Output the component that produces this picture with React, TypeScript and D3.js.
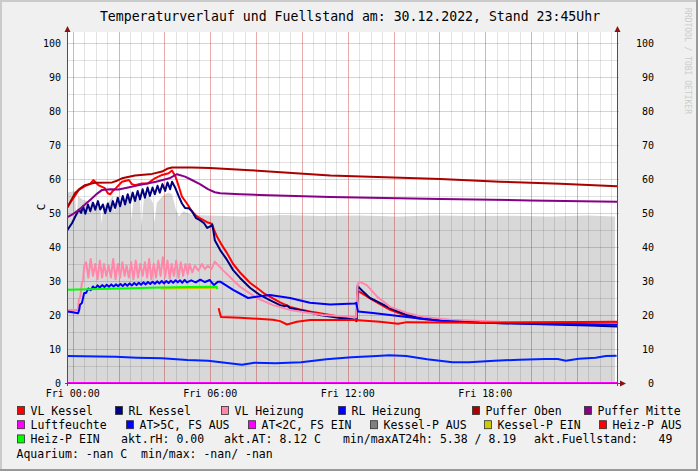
import React from 'react';
import * as d3 from 'd3';

// ---------- data (time in minutes after Fri 00:00, values in °C / %) ----------
const titleText = 'Temperaturverlauf und Fuellstand am: 30.12.2022, Stand 23:45Uhr';
const yTickValues = [0, 10, 20, 30, 40, 50, 60, 70, 80, 90, 100];
const xLabelMinutes = [0, 360, 720, 1080];
const xLabelTexts = ['Fri 00:00', 'Fri 06:00', 'Fri 12:00', 'Fri 18:00'];

const fuellstand: [number, number][] = [
  [-15, 56], [6, 56.5], [10, 48], [14, 55], [25, 54], [38, 53.5], [44, 50], [48, 54], [60, 52.5], [71, 52],
  [76, 47], [80, 52], [92, 53], [105, 55], [110, 50], [115, 55], [129, 52.5], [140, 54.5], [150, 55],
  [154, 48], [160, 55], [176, 53.5], [180, 46], [186, 54], [200, 55], [210, 53], [214, 47], [220, 53],
  [236, 55], [250, 56], [260, 55.5], [270, 51], [278, 49], [290, 50.5], [310, 49.5], [350, 49.3],
  [450, 49.0], [550, 49.4], [650, 49.1], [750, 49.3], [850, 49.0], [950, 49.3], [1050, 49.1],
  [1150, 49.2], [1250, 49.0], [1350, 49.3], [1420, 49.0],
];

const vlKessel: [number, number][] = [
  [-15, 51.5], [-2, 53.8], [16, 56.8], [32, 57.9], [45, 58.5], [54, 59.7], [67, 58.2], [84, 57.3], [92, 55.8],
  [98, 55.5], [105, 56.5], [113, 57.3], [129, 59.2], [147, 59.7], [155, 58.5], [163, 58.2], [181, 58.7],
  [197, 58.7], [215, 60.2], [234, 61.2], [251, 61.7], [260, 62.5], [269, 60.7], [278, 57.7], [286, 54.8],
  [299, 52.8], [312, 50.5], [325, 49], [341, 48], [354, 47.2], [365, 46.8], [370, 45], [378, 43], [388, 41],
  [404, 38.2], [420, 35], [438, 32.5], [464, 29.5], [482, 28], [503, 26.2], [516, 25.4], [543, 23.7],
  [569, 22.4], [595, 21.6], [621, 21], [674, 20], [713, 19.2], [739, 18.5], [743, 18.2], [746, 27],
  [750, 26.9], [786, 24.4], [831, 21.5], [875, 19.7], [909, 18.9], [962, 18.3], [1040, 17.9],
  [1171, 17.8], [1425, 17.8],
];

const rlKessel: [number, number][] = [
  [-15, 44.8], [-2, 47], [9, 49.5], [16, 51], [22, 50], [27, 52], [33, 49.8], [40, 52.5], [46, 50.5],
  [53, 53], [59, 51], [66, 53.5], [72, 51], [79, 52.5], [85, 49.9], [92, 52.8], [98, 50.5], [105, 53.5],
  [111, 51.5], [118, 54.5], [124, 52], [131, 55], [137, 52.5], [144, 55.5], [150, 53], [157, 56],
  [163, 53.5], [170, 56.5], [176, 54], [183, 57], [189, 54.5], [196, 57.5], [202, 55], [209, 57.5],
  [215, 55.5], [222, 58], [228, 56], [235, 58.5], [242, 56.5], [248, 59], [255, 57], [260, 59.2],
  [268, 57.5], [278, 54.8], [286, 52.8], [294, 51.5], [304, 51.4], [312, 50.5], [323, 48.5], [333, 47.9],
  [344, 47], [352, 45.6], [359, 46], [365, 46.5], [368, 45], [372, 42], [386, 39.1], [404, 36.2],
  [420, 33.2], [438, 30.9], [464, 28], [490, 25.9], [516, 24.4], [543, 22.9], [556, 22.6], [561, 22.8],
  [569, 22], [595, 21.5], [647, 20], [700, 19.1], [739, 18.6], [743, 18.3], [746, 28.5], [760, 26.9],
  [778, 25], [786, 24.6], [831, 22], [875, 20], [909, 19.2], [962, 18.5], [1014, 18.1], [1119, 17.6],
  [1250, 17.2], [1354, 16.9], [1425, 16.6],
];

const vlHeizung: [number, number][] = [
  [-15, 21.5], [14, 21.5], [16, 24.5], [20, 25.5], [24, 29.5], [27, 30], [30, 34.5],
  [35, 35.5], [41, 31], [47, 36.5], [53, 31.5], [59, 35], [65, 30.5], [71, 36], [77, 31], [82, 35],
  [88, 31.5], [94, 34.5], [100, 31], [106, 36.5], [112, 30.5], [118, 35], [124, 31], [130, 35.5],
  [136, 31.5], [141, 34.5], [147, 31], [153, 35.5], [159, 30.5], [165, 36], [171, 31], [177, 35],
  [183, 31.5], [189, 35.5], [195, 31], [200, 36.5], [206, 30.5], [212, 35], [218, 31], [224, 36],
  [230, 31.5], [236, 37], [242, 31.2], [248, 36], [254, 30.8], [259, 35], [265, 31.5], [271, 36],
  [277, 31], [283, 35.5], [289, 31.5], [295, 35], [301, 32], [306, 35], [313, 32.5], [320, 34.5],
  [329, 33], [338, 35], [346, 33.5], [354, 34.5], [363, 33.5], [372, 35.7], [393, 33.2], [438, 28.3],
  [482, 25], [524, 22.9], [569, 21.5], [655, 20], [734, 19.5], [742, 19.3], [746, 29], [750, 29.8],
  [770, 28.8], [797, 25.4], [831, 22.4], [875, 20.6], [917, 19.4], [988, 18.6], [1119, 18.0],
  [1276, 17.7], [1425, 17.5],
];

const rlHeizung: [number, number][] = [
  [-15, 21], [0, 20.8], [14, 20.5], [17, 21.5], [19, 23], [24, 23.5], [27, 25], [30, 26.5],
  [35, 26.5], [41, 27.8], [47, 27.3], [53, 28.4], [59, 27.8], [65, 28.7], [71, 28.1], [77, 28.8],
  [83, 28.2], [89, 28.9], [95, 28.3], [101, 29], [107, 28.4], [113, 29], [119, 28.5], [125, 29.1],
  [131, 28.5], [137, 29.2], [143, 28.6], [149, 29.3], [155, 28.7], [161, 29.4], [167, 28.8], [173, 29.5],
  [179, 28.9], [185, 29.6], [191, 29], [197, 29.7], [203, 29.1], [209, 29.8], [215, 29.2], [221, 29.9],
  [227, 29.3], [233, 30], [239, 29.3], [245, 30], [251, 29.4], [257, 30.1], [263, 29.5], [269, 30.2],
  [275, 29.6], [281, 30.2], [287, 29.5], [293, 30.3], [299, 29.6], [310, 30.2], [322, 29.6], [334, 30.4],
  [346, 29.7], [359, 30.3], [365, 29.4], [370, 28.8], [380, 29.8], [386, 29.8], [420, 27.4], [459, 25],
  [482, 25.4], [516, 25.9], [569, 25], [621, 23.6], [674, 23.1], [739, 23.4], [742, 23.6], [747, 21],
  [786, 20.6], [875, 19.4], [962, 18.3], [1066, 17.7], [1250, 17.4], [1425, 17.1],
];

const pufferOben: [number, number][] = [
  [-15, 51.5], [-5, 53.5], [6, 55.8], [19, 57.2], [32, 58.2], [58, 58.9], [103, 59], [116, 59.5],
  [129, 60.2], [163, 61], [208, 61.5], [234, 62.2], [247, 63], [260, 63.4], [312, 63.4], [359, 63.2],
  [464, 62.6], [674, 61.0], [962, 60.0], [1119, 59.2], [1276, 58.6], [1425, 57.9],
];

const pufferMitte: [number, number][] = [
  [-15, 48.7], [-2, 49.5], [16, 50.9], [32, 52.5], [50, 54.3], [64, 55.7], [77, 56.8], [98, 57],
  [120, 56.9], [145, 57.5], [174, 58.2], [218, 59.2], [253, 60.2], [273, 61.4], [294, 60.7], [312, 59.7],
  [333, 58.5], [354, 57], [372, 56.1], [386, 55.8], [438, 55.5], [490, 55.3], [674, 54.7], [962, 54.1],
  [1197, 53.7], [1425, 53.3],
];

const luftfeuchte: [number, number][] = [[-15, 0], [1425, 0]];

const aussenTemp: [number, number][] = [
  [-14, 7.94], [113, 7.75], [168, 7.45], [234, 7.25], [300, 6.76], [355, 6.57], [399, 5.98], [443, 5.4],
  [476, 5.98], [531, 5.78], [598, 6.08], [664, 6.96], [730, 7.55], [796, 7.94], [829, 8.14], [873, 7.94],
  [928, 6.96], [994, 6.08], [1038, 6.08], [1104, 6.57], [1170, 6.86], [1236, 7.06], [1270, 7.06],
  [1291, 6.57], [1325, 7.16], [1369, 7.45], [1396, 7.94], [1424, 8.04],
];

const kesselPEin: [number, number][] = [[230, 27.8], [378, 28.0]];
const heizPEin: [number, number][] = [[-15, 27.4], [100, 27.7], [200, 28.0], [300, 28.2], [377, 28.3], [378, 27.6]];
const heizPAus: [number, number][] = [
  [382, 22], [388, 19.4], [438, 19.2], [524, 18.6], [543, 18.2], [561, 17.2], [587, 18], [621, 18.5],
  [655, 18.5], [739, 18.5], [804, 18], [852, 17.4], [875, 17.9], [1048, 17.7], [1425, 18.0],
];

const legendRows: { color?: string; text: string; x: number }[][] = [
  [
    { color: '#ff0000', text: 'VL Kessel', x: 17 },
    { color: '#000080', text: 'RL Kessel', x: 115 },
    { color: '#ff88aa', text: 'VL Heizung', x: 221 },
    { color: '#0000ff', text: 'RL Heizung', x: 338 },
    { color: '#aa0000', text: 'Puffer Oben', x: 472 },
    { color: '#880088', text: 'Puffer Mitte', x: 584 },
  ],
  [
    { color: '#ff00ff', text: 'Luftfeuchte', x: 17 },
    { color: '#0000ff', text: 'AT>5C, FS AUS', x: 126 },
    { color: '#ff00ff', text: 'AT<2C, FS EIN', x: 248 },
    { color: '#808080', text: 'Kessel-P AUS', x: 370 },
    { color: '#cccc00', text: 'Kessel-P EIN', x: 484 },
    { color: '#ff0000', text: 'Heiz-P AUS', x: 599 },
  ],
  [
    { color: '#00ff00', text: 'Heiz-P EIN', x: 17 },
    { text: 'akt.rH: 0.00', x: 121 },
    { text: 'akt.AT: 8.12 C', x: 224 },
    { text: 'min/maxAT24h: 5.38 / 8.19', x: 343 },
    { text: 'akt.Fuellstand:   49', x: 534 },
  ],
  [{ text: 'Aquarium: -nan C  min/max: -nan/ -nan', x: 16.5 }],
];

// ---------- layout ----------
const W = 698;
const H = 471;
const PL = 67, PR = 617, PT = 32, PB = 383;
const MONO = '"DejaVu Sans Mono", "Liberation Mono", monospace';

export default function App() {
  const x = d3.scaleLinear().domain([-15, 1425]).range([PL, PR]);
  const y = d3.scaleLinear().domain([0, 100]).range([PB, 43]);
  const line = d3.line<[number, number]>().x((d) => x(d[0])).y((d) => y(d[1]));
  const area = d3
    .area<[number, number]>()
    .x((d) => x(d[0]))
    .y0(y(0))
    .y1((d) => y(d[1]));

  const minorX = d3.range(0, 1425, 30);
  const majorX = d3.range(0, 1425, 120);
  const minorY = d3.range(5, 101, 10);

  const series: { data: [number, number][]; color: string; w: number }[] = [
    { data: vlKessel, color: '#ff0000', w: 2 },
    { data: rlKessel, color: '#000080', w: 2 },
    { data: vlHeizung, color: '#ff88aa', w: 2 },
    { data: rlHeizung, color: '#0000ff', w: 2 },
    { data: pufferOben, color: '#aa0000', w: 2 },
    { data: pufferMitte, color: '#880088', w: 2 },
    { data: luftfeuchte, color: '#ff00ff', w: 2 },
    { data: aussenTemp, color: '#0022ff', w: 2 },
    { data: kesselPEin, color: '#cccc00', w: 2 },
    { data: heizPAus, color: '#ff0000', w: 2 },
    { data: heizPEin, color: '#00ff00', w: 2 },
  ];

  return (
    <svg
      width={W}
      height={H}
      style={{ position: 'absolute', left: 0, top: 0, display: 'block' }}
      fontFamily={MONO}
    >
      <defs>
        <clipPath id="plotclip">
          <rect x={PL} y={PT} width={PR - PL} height={PB - PT + 1} />
        </clipPath>
      </defs>
      <rect x={0} y={0} width={W} height={H} fill="#f0f0f0" />
      <rect x={0} y={0} width={W} height={2} fill="#cbcbcb" />
      <rect x={0} y={0} width={2} height={H} fill="#cbcbcb" />
      <rect x={W - 2} y={0} width={2} height={H} fill="#999999" />
      <rect x={0} y={H - 2} width={W} height={2} fill="#999999" />

      <text x={350} y={21} textAnchor="middle" fontSize={13.2} fill="#000">
        {titleText}
      </text>
      <text transform={`translate(685,8) rotate(90)`} fontSize={8} fill="#cccccc">
        RRDTOOL / TOBI OETIKER
      </text>

      <rect x={PL} y={PT} width={PR - PL} height={PB - PT} fill="#ffffff" />

      <g clipPath="url(#plotclip)">
        <path d={area(fuellstand) || ''} fill="#d8d8d8" />
      </g>

      {/* grid */}
      <g shapeRendering="crispEdges">
        {minorX.map((m) => (
          <line key={'mx' + m} x1={Math.round(x(m)) + 0.5} x2={Math.round(x(m)) + 0.5} y1={PT} y2={PB} stroke="rgba(0,0,0,0.11)" />
        ))}
        {minorY.map((v) => (
          <line key={'my' + v} x1={PL} x2={PR} y1={Math.round(y(v)) + 0.5} y2={Math.round(y(v)) + 0.5} stroke="rgba(0,0,0,0.11)" />
        ))}
        {majorX.map((m) => (
          <line key={'Mx' + m} x1={Math.round(x(m)) + 0.5} x2={Math.round(x(m)) + 0.5} y1={PT} y2={PB} stroke="rgba(255,0,0,0.24)" />
        ))}
        {yTickValues.map((v) => (
          <line key={'My' + v} x1={PL} x2={PR + 2} y1={Math.round(y(v)) + 0.5} y2={Math.round(y(v)) + 0.5} stroke="rgba(255,0,0,0.24)" />
        ))}
      </g>

      <g clipPath="url(#plotclip)" fill="none" strokeLinejoin="round">
        {series.map((s, i) => (
          <path key={i} d={line(s.data) || ''} stroke={s.color} strokeWidth={s.w} />
        ))}
      </g>

      {/* axes */}
      <g shapeRendering="crispEdges">
        <line x1={PL + 0.5} x2={PL + 0.5} y1={PB + 3} y2={28} stroke="#505050" />
        <line x1={PR + 0.5} x2={PR + 0.5} y1={PB + 3} y2={28} stroke="#505050" />
        <line x1={PL - 2} x2={621} y1={PB + 0.5} y2={PB + 0.5} stroke="#505050" />
      </g>
      <path d={`M${PL - 2.5},${PT} L${PL + 3.5},${PT} L${PL + 0.5},${PT - 6} Z`} fill="#8b1010" />
      <path d={`M${PR - 2.5},${PT} L${PR + 3.5},${PT} L${PR + 0.5},${PT - 6} Z`} fill="#8b1010" />
      <path d={`M620,${PB - 2.5} L620,${PB + 3.5} L626,${PB + 0.5} Z`} fill="#8b1010" />

      {/* y labels */}
      {yTickValues.map((v) => (
        <g key={'yl' + v}>
          <text x={61} y={y(v) + 3.5} textAnchor="end" fontSize={10} fill="#000">
            {v}
          </text>
          <text x={654} y={y(v) + 3.5} textAnchor="end" fontSize={10} fill="#000">
            {v}
          </text>
        </g>
      ))}
      {xLabelMinutes.map((m, i) => (
        <text key={'xl' + m} x={x(m)} y={397} textAnchor="middle" fontSize={10} fill="#000">
          {xLabelTexts[i]}
        </text>
      ))}
      <text transform="translate(45,207) rotate(-90)" textAnchor="middle" fontSize={11} fill="#000">
        C
      </text>

      {/* legend */}
      {legendRows.map((row, ri) => {
        const cy = 411 + ri * 14.2;
        return (
          <g key={'lr' + ri}>
            {row.map((it, ii) => (
              <g key={ii}>
                {it.color && (
                  <rect x={it.x + 0.5} y={cy - 4.5} width={7} height={8} fill={it.color} stroke="#303030" strokeWidth={0.8} />
                )}
                <text
                  x={it.color ? it.x + 13.5 : it.x}
                  y={cy + 4}
                  fontSize={11.5}
                  fill="#000"
                  style={{ whiteSpace: 'pre' }}
                  xmlSpace="preserve"
                >
                  {it.text}
                </text>
              </g>
            ))}
          </g>
        );
      })}
    </svg>
  );
}
